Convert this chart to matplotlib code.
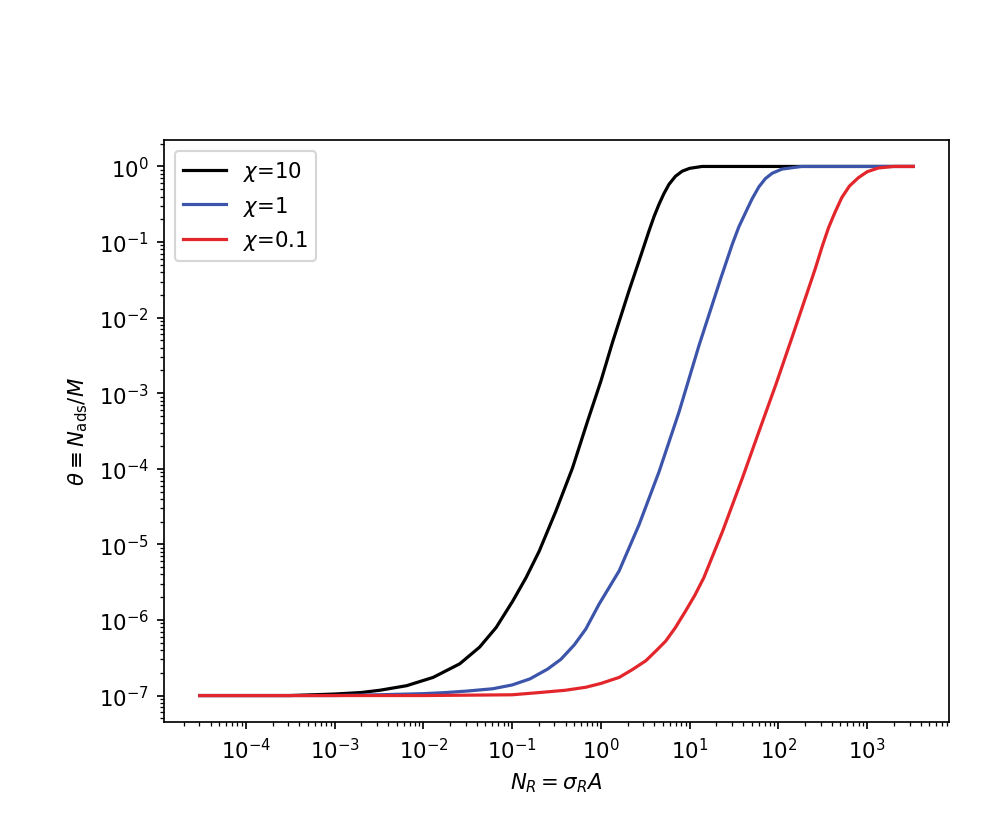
import matplotlib
matplotlib.use("Agg")
import matplotlib.pyplot as plt
from matplotlib.ticker import LogLocator, NullFormatter

# values, as log10 of N_R and log10 of theta
black_logx = [-4.52, -3.5, -3.0, -2.7, -2.49, -2.19, -1.89, -1.59, -1.367, -1.18,
              -0.993, -0.843, -0.695, -0.507, -0.32, -0.15, 0.0, 0.13, 0.318, 0.43,
              0.543, 0.6, 0.655, 0.71, 0.767, 0.84, 0.917, 1.0, 1.14, 1.4, 3.52]
black_logy = [-7.0, -7.0, -6.98, -6.96, -6.93, -6.87, -6.76, -6.58, -6.36, -6.10,
              -5.75, -5.44, -5.09, -4.56, -3.99, -3.37, -2.84, -2.33, -1.64, -1.25,
              -0.85, -0.66, -0.50, -0.36, -0.237, -0.13, -0.062, -0.025, 0.0, 0.0, 0.0]

blue_logx = [-4.52, -3.0, -2.5, -2.0, -1.74, -1.5, -1.218, -1.0, -0.8, -0.6,
             -0.45, -0.3, -0.17, -0.02, 0.206, 0.43, 0.655, 0.88, 1.105, 1.348,
             1.48, 1.554, 1.63, 1.703, 1.78, 1.854, 1.93, 2.04, 2.26, 3.52]
blue_logy = [-7.0, -7.0, -6.99, -6.975, -6.96, -6.94, -6.91, -6.86, -6.78, -6.65,
             -6.52, -6.33, -6.12, -5.79, -5.35, -4.74, -4.04, -3.25, -2.37, -1.49,
             -1.03, -0.80, -0.61, -0.43, -0.27, -0.16, -0.09, -0.035, 0.0, 0.0]

red_logx = [-4.52, -2.0, -1.0, -0.69, -0.4, -0.169, 0.0, 0.206, 0.35, 0.506,
            0.62, 0.73, 0.84, 0.955, 1.06, 1.16, 1.37, 1.595, 1.78, 1.97,
            2.16, 2.35, 2.416, 2.49, 2.565, 2.64, 2.715, 2.80, 2.90, 3.0,
            3.127, 3.3, 3.52]
red_logy = [-7.0, -7.0, -6.99, -6.96, -6.93, -6.89, -6.84, -6.76, -6.66, -6.54,
            -6.41, -6.28, -6.10, -5.88, -5.67, -5.44, -4.83, -4.12, -3.51, -2.89,
            -2.24, -1.58, -1.35, -1.07, -0.81, -0.60, -0.41, -0.26, -0.15, -0.07,
            -0.02, 0.0, 0.0]

labels = [r"$\chi$=10", r"$\chi$=1", r"$\chi$=0.1"]
colors = ["black", "#3c55ab", "#e3262b"]

W, H, DPI = 981, 821, 153
fig = plt.figure(figsize=(W / DPI, H / DPI), dpi=DPI)
ax = fig.add_axes([164 / W, 1 - 723 / H, (949 - 164) / W, (723 - 141) / H])

series = [(black_logx, black_logy), (blue_logx, blue_logy), (red_logx, red_logy)]
for (lx, ly), lab, col in zip(series, labels, colors):
    xs = [10 ** v for v in lx]
    ys = [10 ** v for v in ly]
    ax.plot(xs, ys, color=col, label=lab, lw=1.5)

ax.set_xscale("log")
ax.set_yscale("log")
for axis in (ax.xaxis, ax.yaxis):
    axis.set_major_locator(LogLocator(base=10, numticks=30))
    axis.set_minor_locator(LogLocator(base=10, subs=range(2, 10), numticks=300))
    axis.set_minor_formatter(NullFormatter())

ax.set_xlabel(r"$N_R = \sigma_R A$")
ax.set_ylabel(r"$\theta \equiv N_{\rm ads}/M$")
ax.legend(loc="upper left")

fig.savefig("out.png", dpi=DPI)
